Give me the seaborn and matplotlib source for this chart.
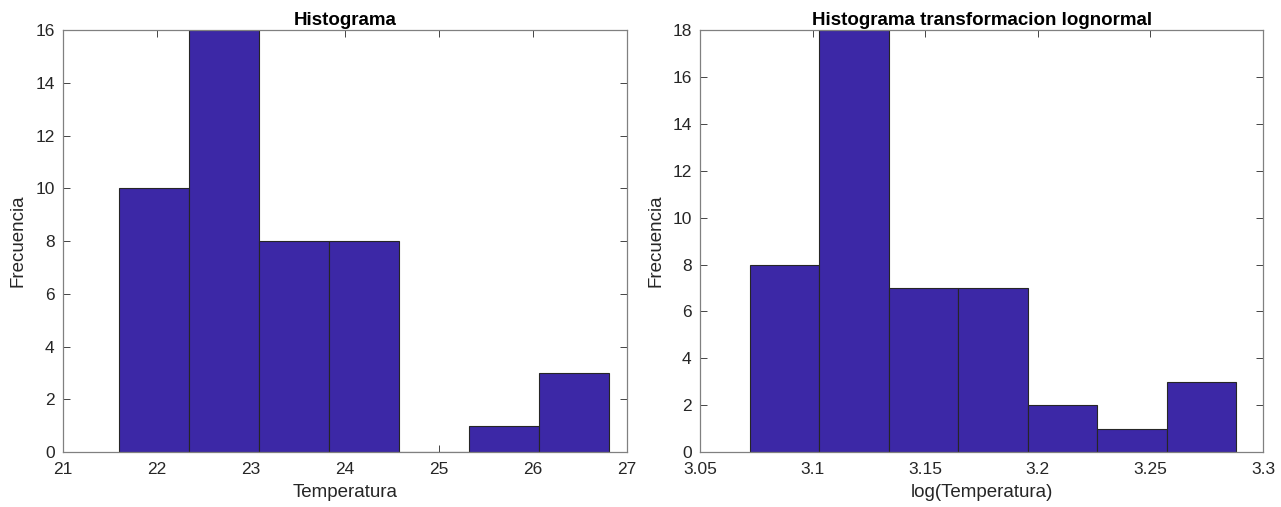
import numpy as np
import pandas as pd
import matplotlib
matplotlib.use("Agg")
import matplotlib.pyplot as plt
import seaborn as sns

# bin edges and counts
temp_edges = [21.596, 22.341, 23.086, 23.831, 24.576, 25.321, 26.066, 26.811]
temp_counts = [10, 16, 8, 8, 0, 1, 3]

log_edges = [3.0722, 3.1030, 3.1339, 3.1647, 3.1955, 3.2264, 3.2572, 3.2880]
log_counts = [8, 18, 7, 7, 2, 1, 3]

bar_color = "#3c28a6"
edge_color = "#262626"
axis_color = "#262626"

sns.set_style("white")
plt.rcParams["font.family"] = ["Liberation Sans", "DejaVu Sans"]
plt.rcParams["font.size"] = 12


def draw_hist(ax, edges, counts, title, xlabel, xlim, ylim, xticks):
    e = np.array(edges)
    df = pd.DataFrame({"x": (e[:-1] + e[1:]) / 2, "n": counts})
    sns.histplot(data=df, x="x", weights="n", bins=list(edges), ax=ax,
                 color=bar_color, alpha=1, edgecolor=edge_color, linewidth=0.8)
    ax.set_xlim(*xlim)
    ax.set_ylim(*ylim)
    ax.set_xticks(xticks)
    ax.set_title(title, fontweight="bold", fontsize=13.5, pad=4, color="black")
    ax.set_xlabel(xlabel, fontsize=13.5, color=axis_color, labelpad=5)
    ax.set_ylabel("Frecuencia", fontsize=13.5, color=axis_color, labelpad=6)
    ax.tick_params(direction="in", top=True, right=True, length=5,
                   width=0.6, colors=axis_color, labelsize=12.5,
                   bottom=True, left=True)
    ax.tick_params(axis="x", pad=7)
    ax.tick_params(axis="y", pad=6)
    for s in ax.spines.values():
        s.set_visible(True)
        s.set_color("#808080")
        s.set_linewidth(0.9)


fig = plt.figure(figsize=(12.81, 5.07), dpi=100)
ax1 = fig.add_axes([0.0492, 0.1085, 0.4403, 0.832])
ax2 = fig.add_axes([0.5465, 0.1085, 0.4395, 0.832])

draw_hist(ax1, temp_edges, temp_counts, "Histograma", "Temperatura",
          (21, 27), (0, 16), [21, 22, 23, 24, 25, 26, 27])
ax1.set_yticks(range(0, 17, 2))

draw_hist(ax2, log_edges, log_counts, "Histograma transformacion lognormal",
          "log(Temperatura)", (3.05, 3.3), (0, 18),
          [3.05, 3.1, 3.15, 3.2, 3.25, 3.3])
ax2.set_yticks(range(0, 19, 2))
ax2.set_xticklabels(["3.05", "3.1", "3.15", "3.2", "3.25", "3.3"])

fig.savefig("out.png", dpi=100)
